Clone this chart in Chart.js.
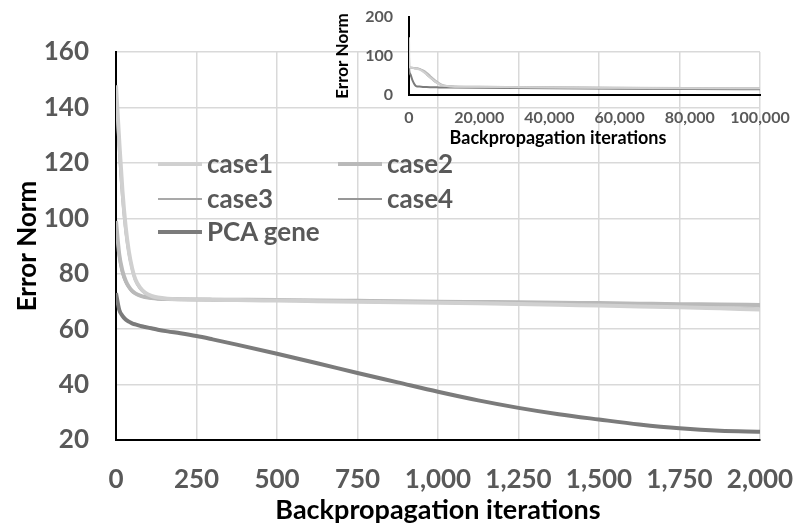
<!DOCTYPE html>
<html>
<head>
<meta charset="utf-8">
<script src="https://cdn.jsdelivr.net/npm/chart.js@4.4.1/dist/chart.umd.min.js"></script>
<style>
  body { margin: 0; background: #fff; }
  #wrap { position: relative; width: 795px; height: 527px; overflow: hidden; font-family: Lato, sans-serif; }
  #main { position: absolute; left: 0; top: 0; }
  #inset { position: absolute; left: 330px; top: 0; }
  .leg { position: absolute; font: bold 26px Lato, sans-serif; color: #595959; line-height: 30px; }
  .leg span { position: absolute; }
  #insetTitle { position: absolute; left: 448px; top: 126px; width: 220px; text-align: center;
    font: bold 18px Lato, sans-serif; color: #000; white-space: nowrap; }
</style>
</head>
<body>
<div id="wrap">
  <canvas id="main" width="795" height="527"></canvas>
  <canvas id="inset" width="465" height="150"></canvas>
  <div id="legend"></div>
  <div id="insetTitle">Backpropagation iterations</div>
</div>
<script>
// 系列名
const seriesNames = ['case1', 'case2', 'case3', 'case4', 'PCA gene'];

// メイングラフ (0〜2,000 iterations)
const iterations = [0, 10, 20, 30, 40, 50, 60, 75, 90, 110, 130, 160, 200, 250, 300, 375, 500, 625, 750, 875, 1000, 1125, 1250, 1375, 1500, 1625, 1750, 1875, 2000];
const case1 = [148, 128, 110, 97, 88, 82, 78, 75, 73.2, 72, 71.4, 71, 70.8, 70.7, 70.6, 70.5, 70.3, 70.1, 69.9, 69.7, 69.5, 69.3, 69.1, 68.8, 68.5, 68.2, 67.9, 67.5, 67.1];
const case2 = [99, 87, 81, 77.5, 75.3, 73.8, 72.9, 72.1, 71.6, 71.2, 71, 70.9, 70.8, 70.7, 70.65, 70.6, 70.5, 70.3, 70.2, 70.1, 69.9, 69.8, 69.7, 69.5, 69.4, 69.2, 69.0, 68.9, 68.7];
const case3 = [145, 124, 107, 95, 87, 81.5, 77.5, 74.6, 73, 71.9, 71.3, 71, 70.8, 70.7, 70.6, 70.5, 70.3, 70.1, 69.9, 69.7, 69.5, 69.3, 69.1, 68.9, 68.6, 68.3, 68.0, 67.7, 67.4];
const case4 = [98, 86, 80.2, 77, 75, 73.6, 72.8, 72, 71.5, 71.1, 70.9, 70.8, 70.7, 70.6, 70.55, 70.5, 70.4, 70.3, 70.1, 70.0, 69.9, 69.7, 69.6, 69.4, 69.3, 69.1, 69.0, 68.8, 68.6];
const pcaGene = [73, 67, 64.8, 63.5, 62.7, 62.1, 61.7, 61.2, 60.8, 60.3, 59.8, 59.2, 58.5, 57.5, 56.3, 54.4, 51.1, 47.7, 44.2, 40.8, 37.4, 34.3, 31.6, 29.3, 27.4, 25.6, 24.2, 23.3, 23.0];

// 挿入図 (0〜100,000 iterations)
const insetIter = [0, 100, 500, 1000, 2000, 3000, 4000, 5000, 6000, 7000, 8000, 9000, 10000, 12000, 20000, 40000, 60000, 80000, 100000];
const insetCase1 = [148, 73, 70.3, 69.5, 67.1, 65, 60, 53, 45, 38, 31, 26, 23.5, 22, 21, 19.5, 18.5, 17.5, 17];
const insetCase2 = [99, 72.3, 70.5, 69.9, 68.7, 67, 63, 57, 49, 41, 34, 28, 24.5, 22.5, 21.2, 19.8, 18.7, 17.8, 17.2];
const insetCase3 = [145, 73, 70.3, 69.5, 67.4, 65.5, 60.5, 52, 44, 36, 30, 25.5, 23.2, 22, 21, 19.5, 18.5, 17.5, 17];
const insetCase4 = [98, 72, 70.4, 69.9, 68.6, 67.2, 62, 55, 47, 39, 32, 27, 24, 22.3, 21.1, 19.7, 18.6, 17.7, 17.1];
const insetPca = [73, 60.8, 51.2, 37.4, 23, 21.5, 20.8, 20.3, 20, 19.8, 19.6, 19.4, 19.2, 19, 18.3, 17, 16, 15.2, 14.5];

// 目盛り
const mainXTicks = [0, 250, 500, 750, 1000, 1250, 1500, 1750, 2000];
const mainYTicks = [20, 40, 60, 80, 100, 120, 140, 160];
const insetXTicks = [0, 20000, 40000, 60000, 80000, 100000];
const insetYTicks = [0, 100, 200];

// 線のスタイル
const colors = ['#d0d0d0', '#b9b9b9', '#a9a9a9', '#979797', '#7b7b7b'];
const widths = [4, 4, 2.5, 2.5, 4];

const tickGray = '#595959';

function toPoints(xs, ys) {
  return xs.map((x, i) => ({ x: x, y: ys[i] }));
}

function makeDatasets(xs, list, scale) {
  return list.map((ys, i) => ({
    label: seriesNames[i],
    data: toPoints(xs, ys),
    borderColor: colors[i],
    borderWidth: widths[i] * scale,
    pointRadius: 0,
    fill: false,
    cubicInterpolationMode: 'monotone'
  }));
}

function fmt(v) {
  return Number(v).toLocaleString('en-US');
}

// ラベルのはみ出し分を無視して、layout.padding で描画領域を決める
function fixX(height) {
  return s => { s.height = height; s.paddingLeft = 0; s.paddingRight = 0; };
}
function fixY(width) {
  return s => { s.width = width; s.paddingTop = 0; s.paddingBottom = 0; };
}

// メイングラフ
new Chart(document.getElementById('main'), {
  type: 'line',
  data: { datasets: makeDatasets(iterations, [case1, case2, case3, case4, pcaGene], 1) },
  options: {
    responsive: false,
    animation: false,
    layout: { padding: { top: 52, right: 35, left: 0, bottom: 0 } },
    plugins: { legend: { display: false }, tooltip: { enabled: false } },
    scales: {
      x: {
        type: 'linear', min: 0, max: 2000,
        afterBuildTicks: s => { s.ticks = mainXTicks.map(v => ({ value: v })); },
        afterFit: fixX(87),
        ticks: { callback: fmt, color: tickGray, font: { family: 'Lato', weight: 'bold', size: 26 }, padding: 24, maxRotation: 0, autoSkip: false },
        grid: { color: '#d9d9d9', lineWidth: 1.5, drawTicks: false },
        border: { color: '#000', width: 2 },
        title: { display: true, text: 'Backpropagation iterations', color: '#000', font: { family: 'Lato', weight: 'bold', size: 27 }, padding: { top: 0, bottom: 1 } }
      },
      y: {
        min: 20, max: 160,
        afterBuildTicks: s => { s.ticks = mainYTicks.map(v => ({ value: v })); },
        afterFit: fixY(116),
        ticks: { color: tickGray, font: { family: 'Lato', weight: 'bold', size: 26 }, padding: 27 },
        grid: { color: '#d9d9d9', lineWidth: 1.5, drawTicks: false },
        border: { color: '#000', width: 2 },
        title: { display: true, text: 'Error Norm', color: '#000', font: { family: 'Lato', weight: 'bold', size: 26 }, padding: { top: 12, bottom: 0 } }
      }
    }
  }
});

// 挿入図
new Chart(document.getElementById('inset'), {
  type: 'line',
  data: { datasets: makeDatasets(insetIter, [insetCase1, insetCase2, insetCase3, insetCase4, insetPca], 0.5) },
  options: {
    responsive: false,
    animation: false,
    layout: { padding: { top: 17, right: 35, left: 0, bottom: 0 } },
    plugins: { legend: { display: false }, tooltip: { enabled: false } },
    scales: {
      x: {
        type: 'linear', min: 0, max: 100000,
        afterBuildTicks: s => { s.ticks = insetXTicks.map(v => ({ value: v })); },
        afterFit: fixX(55),
        ticks: { callback: fmt, color: tickGray, font: { family: 'Lato', weight: 'bold', size: 16 }, padding: 13, maxRotation: 0, autoSkip: false },
        grid: { display: false, drawTicks: false },
        border: { color: '#000', width: 2 }
      },
      y: {
        min: 0, max: 200,
        afterBuildTicks: s => { s.ticks = insetYTicks.map(v => ({ value: v })); },
        afterFit: fixY(79),
        ticks: { color: tickGray, font: { family: 'Lato', weight: 'bold', size: 16 }, padding: 16 },
        grid: { display: false, drawTicks: false },
        border: { color: '#000', width: 2 },
        title: { display: true, text: 'Error Norm', color: '#000', font: { family: 'Lato', weight: 'bold', size: 17 }, padding: { top: 2, bottom: 0 } }
      }
    }
  }
});

// 凡例
const legendPos = [
  { x: 158, y: 164 }, { x: 338, y: 164 },
  { x: 158, y: 199 }, { x: 338, y: 199 },
  { x: 158, y: 232 }
];
const legendEl = document.getElementById('legend');
seriesNames.forEach((name, i) => {
  const p = legendPos[i];
  const item = document.createElement('div');
  item.className = 'leg';
  item.style.left = p.x + 'px';
  item.style.top = (p.y - 15) + 'px';
  const line = document.createElement('span');
  line.style.left = '0px';
  line.style.top = (15 - widths[i] / 2) + 'px';
  line.style.width = '44px';
  line.style.height = widths[i] + 'px';
  line.style.background = colors[i];
  const text = document.createElement('span');
  text.style.left = '49px';
  text.style.top = '-1px';
  text.style.whiteSpace = 'nowrap';
  text.textContent = name;
  item.appendChild(line);
  item.appendChild(text);
  legendEl.appendChild(item);
});
</script>
</body>
</html>
